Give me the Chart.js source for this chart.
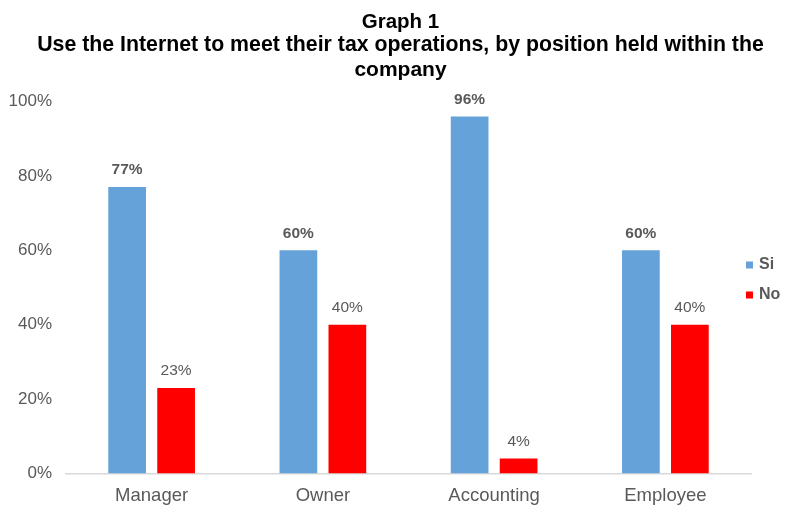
<!DOCTYPE html>
<html><head><meta charset="utf-8">
<script src="https://cdn.jsdelivr.net/npm/chart.js@4/dist/chart.umd.min.js"></script>
<style>html,body{margin:0;padding:0;background:#fff;}#wrap{width:785px;height:507px;}</style>
</head><body><div id="wrap"><canvas id="c" width="785" height="507"></canvas></div>
<script>
const titleLines = ['Graph 1', 'Use the Internet to meet their tax operations, by position held within the', 'company'];
const categories = ['Manager', 'Owner', 'Accounting', 'Employee'];
const seriesNames = ['Si', 'No'];
const siValues = [77, 60, 96, 60];
const noValues = [23, 40, 4, 40];
const yTicks = [0, 20, 40, 60, 80, 100];

const FONT = '"Liberation Sans", Arial, sans-serif';
const GREY = '#595959';

const customDraw = {
  id: 'customDraw',
  afterDatasetsDraw(chart) {
    const ctx = chart.ctx;
    ctx.save();
    // data labels
    chart.data.datasets.forEach((ds, i) => {
      const meta = chart.getDatasetMeta(i);
      ctx.font = (i === 0 ? 'bold ' : '') + '15.5px ' + FONT;
      ctx.fillStyle = GREY;
      ctx.textAlign = 'center';
      ctx.textBaseline = 'middle';
      meta.data.forEach((el, j) => {
        ctx.fillText(ds.data[j] + '%', el.x, el.y - 17);
      });
    });
    // title
    ctx.fillStyle = '#000';
    ctx.textAlign = 'center';
    ctx.textBaseline = 'alphabetic';
    const ys = [27.5, 51, 76];
    const sizes = [20.5, 21.3, 21];
    titleLines.forEach((t, k) => {
      ctx.font = 'bold ' + sizes[k] + 'px ' + FONT;
      ctx.fillText(t, 400.5, ys[k]);
    });
    // legend
    const ly = [265, 295];
    ctx.font = 'bold 16px ' + FONT;
    ctx.textAlign = 'left';
    ctx.textBaseline = 'middle';
    chart.data.datasets.forEach((ds, i) => {
      ctx.fillStyle = ds.backgroundColor;
      ctx.fillRect(746, ly[i] - 3.5, 7, 7);
      ctx.fillStyle = GREY;
      ctx.fillText(ds.label, 759, ly[i]);
    });
    ctx.restore();
  }
};

new Chart(document.getElementById('c'), {
  type: 'bar',
  data: {
    labels: categories,
    datasets: [
      { label: seriesNames[0], data: siValues, backgroundColor: '#65A2D9', borderWidth: 0,
        categoryPercentage: 0.572, barPercentage: 0.77 },
      { label: seriesNames[1], data: noValues, backgroundColor: '#FF0000', borderWidth: 0,
        categoryPercentage: 0.572, barPercentage: 0.77 }
    ]
  },
  options: {
    responsive: false,
    animation: false,
    layout: { padding: { top: 101.5, right: 34, bottom: 0, left: 0 } },
    plugins: { legend: { display: false }, title: { display: false }, tooltip: { enabled: false } },
    scales: {
      x: {
        grid: { display: false, drawTicks: false },
        border: { display: true, color: '#d9d9d9', width: 1.5 },
        ticks: { color: GREY, font: { family: FONT, size: 18.5 }, padding: 11, maxRotation: 0 },
        afterFit(s) { s.height = 33.5; }
      },
      y: {
        min: 0, max: 100,
        grid: { display: false, drawTicks: false },
        border: { display: false },
        afterBuildTicks(s) { s.ticks = yTicks.map(v => ({ value: v })); },
        ticks: { color: GREY, font: { family: FONT, size: 17 }, padding: 14,
          callback: v => v + '%' },
        afterFit(s) { s.width = 66; }
      }
    }
  },
  plugins: [customDraw]
});
</script></body></html>
